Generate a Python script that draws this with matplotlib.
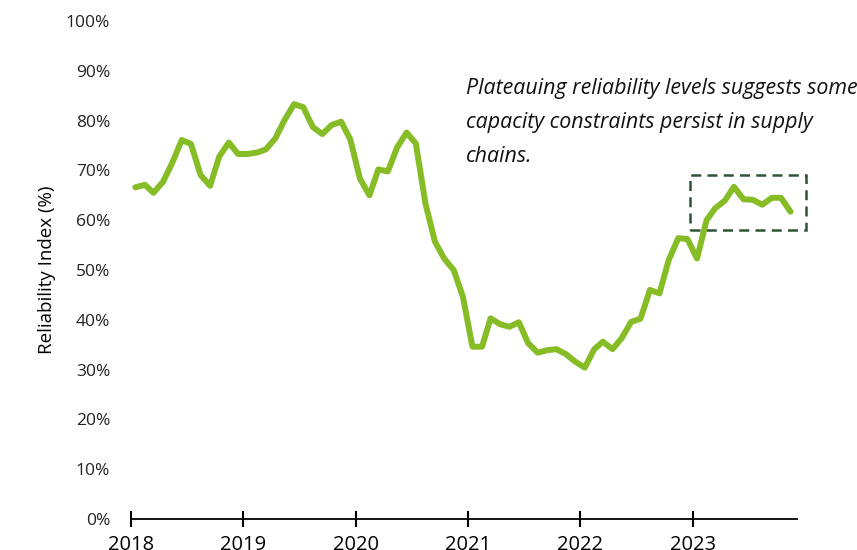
import numpy as np
import pandas as pd
import matplotlib
matplotlib.use("Agg")
import matplotlib.pyplot as plt
import matplotlib.dates as mdates
from matplotlib.patches import Rectangle
from matplotlib.ticker import FuncFormatter

plt.rcParams['font.family'] = ['Open Sans', 'DejaVu Sans']

# monthly reliability index, Jan 2018 - Nov 2023
reliability = [
    66.6, 67.1, 65.5, 67.7, 71.5, 76.1, 75.3, 69.1, 66.9, 72.8, 75.6, 73.3,
    73.3, 73.6, 74.2, 76.4, 80.1, 83.3, 82.7, 78.7, 77.3, 79.1, 79.8, 76.2,
    68.4, 65.0, 70.2, 69.8, 74.6, 77.6, 75.4, 63.4, 55.7, 52.3, 50.0, 44.6,
    34.6, 34.6, 40.3, 39.1, 38.6, 39.5, 35.3, 33.4, 33.9, 34.1, 33.1, 31.6,
    30.4, 34.1, 35.6, 34.1, 36.3, 39.6, 40.2, 46.0, 45.3, 52.0, 56.4, 56.2,
    52.3, 60.0, 62.4, 63.9, 66.7, 64.2, 64.1, 63.1, 64.5, 64.5, 61.7,
]
dates = pd.date_range('2018-01-01', periods=len(reliability), freq='MS') + pd.Timedelta(days=14)
years = [2018, 2019, 2020, 2021, 2022, 2023]
note = ("Plateauing reliability levels suggests some\n"
        "capacity constraints persist in supply\n"
        "chains.")

fig = plt.figure(figsize=(8.57, 5.5), dpi=100)
ax = fig.add_axes([131 / 857, 1 - 519 / 550, 666 / 857, 498 / 550])

ax.plot(dates, reliability, color='#86bc25', linewidth=4.3,
        solid_capstyle='round', solid_joinstyle='round')

ax.set_ylim(0, 100)
ax.set_xlim(pd.Timestamp('2018-01-01'), pd.Timestamp('2023-12-06'))
ax.set_yticks(np.arange(0, 101, 10))
ax.yaxis.set_major_formatter(FuncFormatter(lambda v, _: f'{v:.0f}%'))
ax.set_xticks([pd.Timestamp(f'{y}-01-01') for y in years])
ax.xaxis.set_major_formatter(mdates.DateFormatter('%Y'))

for side in ['left', 'right', 'top']:
    ax.spines[side].set_visible(False)
ax.spines['bottom'].set_linewidth(1.3)
ax.tick_params(axis='y', length=0, pad=15, labelsize=12.5, colors='#222222')
ax.tick_params(axis='x', direction='inout', length=11, width=1.5, pad=6,
               labelsize=14.5, colors='black')
ax.set_ylabel('Reliability Index (%)', fontsize=13.5, labelpad=7)

# highlight box around the recent plateau
x0 = mdates.date2num(pd.Timestamp('2022-12-22'))
x1 = mdates.date2num(pd.Timestamp('2024-01-03'))
ax.add_patch(Rectangle((x0, 58), x1 - x0, 11.1, fill=False,
                       edgecolor='#2d5438', linewidth=1.8,
                       linestyle=(0, (4, 2.5)), clip_on=False))

ax.text(pd.Timestamp('2020-12-24'), 88.6, note, fontsize=15.4, style='italic',
        va='top', ha='left', linespacing=1.83, color='#111111')

fig.savefig('out.png', dpi=100)
